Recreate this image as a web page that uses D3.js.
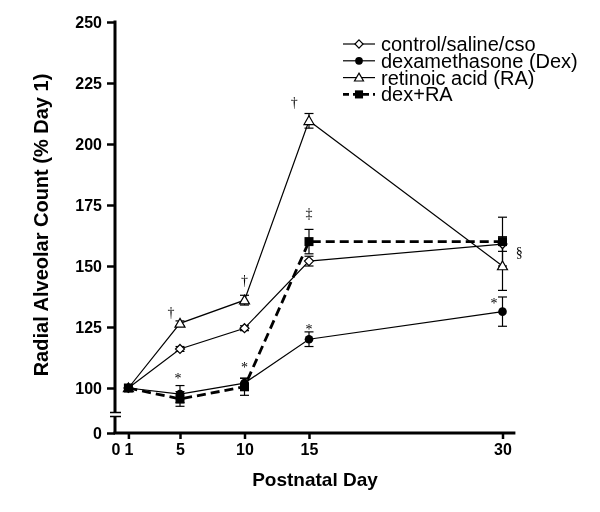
<!DOCTYPE html>
<html><head><meta charset="utf-8">
<script src="https://cdn.jsdelivr.net/npm/d3@7"></script>
<style>body{margin:0;background:#fff}svg{display:block;will-change:transform}</style>
</head><body>
<svg id="c" width="600" height="512"></svg>
<script>
const days = [1, 5, 10, 15, 30];
const seriesNames = ["control/saline/cso", "dexamethasone (Dex)", "retinoic acid (RA)", "dex+RA"];
const control = [100, 116, 124.5, 152, 159];
const controlErr = [0, 1, 1, 2, 3];
const dex = [100, 97.5, 102, 120, 131.3];
const dexErr = [0, 3.5, 2, 3, 6];
const ra = [100, 126.5, 136, 209.5, 150];
const raErr = [0, 1, 2, 3, 10];
const dexRA = [100, 95.5, 100.5, 160, 160];
const dexRAErr = [0, 3, 3.5, 5, 10];
const xTicks = [0, 1, 5, 10, 15, 30];
const yTicks = [100, 125, 150, 175, 200, 225, 250];
const annotations = [
  {day: 4.3, value: 131.3, text: "\u2020"},
  {day: 10.0, value: 144.3, text: "\u2020"},
  {day: 13.86, value: 217.3, text: "\u2020"},
  {day: 15.0, value: 171.7, text: "\u2021"},
  {day: 4.85, value: 106.2, text: "*"},
  {day: 10.0, value: 111, text: "*"},
  {day: 15.0, value: 126.5, text: "*"},
  {day: 29.34, value: 137, text: "*"},
  {day: 31.3, value: 155.7, text: "\u00a7"}
];

const svg = d3.select("#c");
const x = d3.scaleLinear().domain([0, 31]).range([115.5, 515.4]);
const yU = d3.scaleLinear().domain([100, 250]).range([388, 22]);
const yL = d3.scaleLinear().domain([0, 7]).range([433, 416]);

const series = [
  {name: seriesNames[0], v: control, e: controlErr, marker: "diamond", fill: "#fff", dash: null, w: 1.2},
  {name: seriesNames[1], v: dex, e: dexErr, marker: "circle", fill: "#000", dash: null, w: 1.2},
  {name: seriesNames[2], v: ra, e: raErr, marker: "triangle", fill: "#fff", dash: null, w: 1.2},
  {name: seriesNames[3], v: dexRA, e: dexRAErr, marker: "square", fill: "#000", dash: "9,5", w: 2.8}
];

function drawMarker(g, type, cx, cy, fill, scale) {
  scale = scale || 1;
  if (type === "diamond") {
    const r = 4.5 * scale;
    g.append("path").attr("d", `M${cx},${cy - r}L${cx + r},${cy}L${cx},${cy + r}L${cx - r},${cy}Z`)
      .attr("fill", fill).attr("stroke", "#000").attr("stroke-width", 1.2);
  } else if (type === "circle") {
    g.append("circle").attr("cx", cx).attr("cy", cy).attr("r", 4.3 * scale).attr("fill", fill);
  } else if (type === "triangle") {
    const s = 5 * scale;
    g.append("path").attr("d", `M${cx},${cy - s}L${cx + s},${cy + s * 0.75}L${cx - s},${cy + s * 0.75}Z`)
      .attr("fill", fill).attr("stroke", "#000").attr("stroke-width", 1.2);
  } else if (type === "square") {
    const h = 4.5 * scale;
    g.append("rect").attr("x", cx - h).attr("y", cy - h).attr("width", 2 * h).attr("height", 2 * h).attr("fill", fill);
  }
}

const plot = svg.append("g");
const line = d3.line().x((d, i) => x(days[i])).y(d => yU(d));

series.forEach(s => {
  plot.append("path").datum(s.v).attr("d", line).attr("fill", "none")
    .attr("stroke", "#000").attr("stroke-width", s.w).attr("stroke-dasharray", s.dash);
});
series.forEach(s => {
  s.v.forEach((v, i) => {
    if (!s.e[i]) return;
    const cx = x(days[i]), y1 = yU(v + s.e[i]), y2 = yU(v - s.e[i]);
    const g = plot.append("g").attr("stroke", "#000").attr("stroke-width", 1.2);
    g.append("line").attr("x1", cx).attr("x2", cx).attr("y1", y1).attr("y2", y2);
    g.append("line").attr("x1", cx - 4.5).attr("x2", cx + 4.5).attr("y1", y1).attr("y2", y1);
    g.append("line").attr("x1", cx - 4.5).attr("x2", cx + 4.5).attr("y1", y2).attr("y2", y2);
  });
});
series.forEach(s => {
  s.v.forEach((v, i) => drawMarker(plot, s.marker, x(days[i]), yU(v), s.fill));
});

const annoG = svg.append("g");
annoG.selectAll("text").data(annotations).join("text")
  .attr("x", d => x(d.day)).attr("y", d => yU(d.value))
  .attr("dy", d => d.text === "*" ? "0.75em" : "0.35em")
  .attr("text-anchor", "middle").attr("fill", "#000")
  .attr("font-family", "Liberation Serif, serif").attr("font-size", 14)
  .text(d => d.text);

const ax = svg.append("g");
ax.append("line").attr("x1", 115).attr("x2", 115).attr("y1", yU(250) - 1.5).attr("y2", 412.5)
  .attr("stroke", "#000").attr("stroke-width", 3);
ax.append("line").attr("x1", 115).attr("x2", 115).attr("y1", 416.5).attr("y2", 434)
  .attr("stroke", "#000").attr("stroke-width", 3);
[412.5, 416.5].forEach(yy => ax.append("line").attr("x1", 110).attr("x2", 121).attr("y1", yy).attr("y2", yy)
  .attr("stroke", "#000").attr("stroke-width", 1.5));
ax.append("line").attr("x1", 113.5).attr("x2", x(31)).attr("y1", yL(0)).attr("y2", yL(0))
  .attr("stroke", "#000").attr("stroke-width", 3);

const fontAx = "Liberation Sans, Arial, sans-serif";
const fmt = d3.format("d");
const yAxisG = svg.append("g").attr("transform", "translate(115,0)")
  .call(d3.axisLeft(yU).tickValues(yTicks).tickSize(8).tickPadding(5).tickFormat(fmt));
const yAxisL = svg.append("g").attr("transform", "translate(115,0)")
  .call(d3.axisLeft(yL).tickValues([0]).tickSize(8).tickPadding(5).tickFormat(fmt));
const xAxisG = svg.append("g").attr("transform", `translate(0,${yL(0)})`)
  .call(d3.axisBottom(x).tickValues(xTicks).tickSize(6).tickPadding(5).tickFormat(fmt));
[yAxisG, yAxisL, xAxisG].forEach(g => {
  g.select(".domain").remove();
  g.selectAll(".tick line").attr("stroke-width", 2.5);
  g.selectAll(".tick text").attr("font-family", fontAx).attr("font-weight", "bold").attr("font-size", 16).attr("fill", "#000");
});
xAxisG.selectAll(".tick").filter(d => d === 0).select("line").remove();

svg.append("text").attr("x", 315).attr("y", 486).attr("text-anchor", "middle")
  .attr("font-family", fontAx).attr("font-weight", "bold").attr("font-size", 19).text("Postnatal Day");
svg.append("text").attr("transform", "translate(48,225) rotate(-90)").attr("text-anchor", "middle")
  .attr("font-family", fontAx).attr("font-weight", "bold").attr("font-size", 20).text("Radial Alveolar Count (% Day 1)");

const leg = svg.append("g");
series.forEach((s, i) => {
  const cy = 44 + i * 16.8;
  leg.append("line").attr("x1", 343).attr("x2", 375).attr("y1", cy).attr("y2", cy)
    .attr("stroke", "#000").attr("stroke-width", s.w).attr("stroke-dasharray", s.dash ? "6,4" : null);
  drawMarker(leg, s.marker, 359, cy, s.fill, 0.9);
  leg.append("text").attr("x", 381).attr("y", cy).attr("dy", "0.35em")
    .attr("font-family", fontAx).attr("font-size", 20).text(s.name);
});
</script>
</body></html>
